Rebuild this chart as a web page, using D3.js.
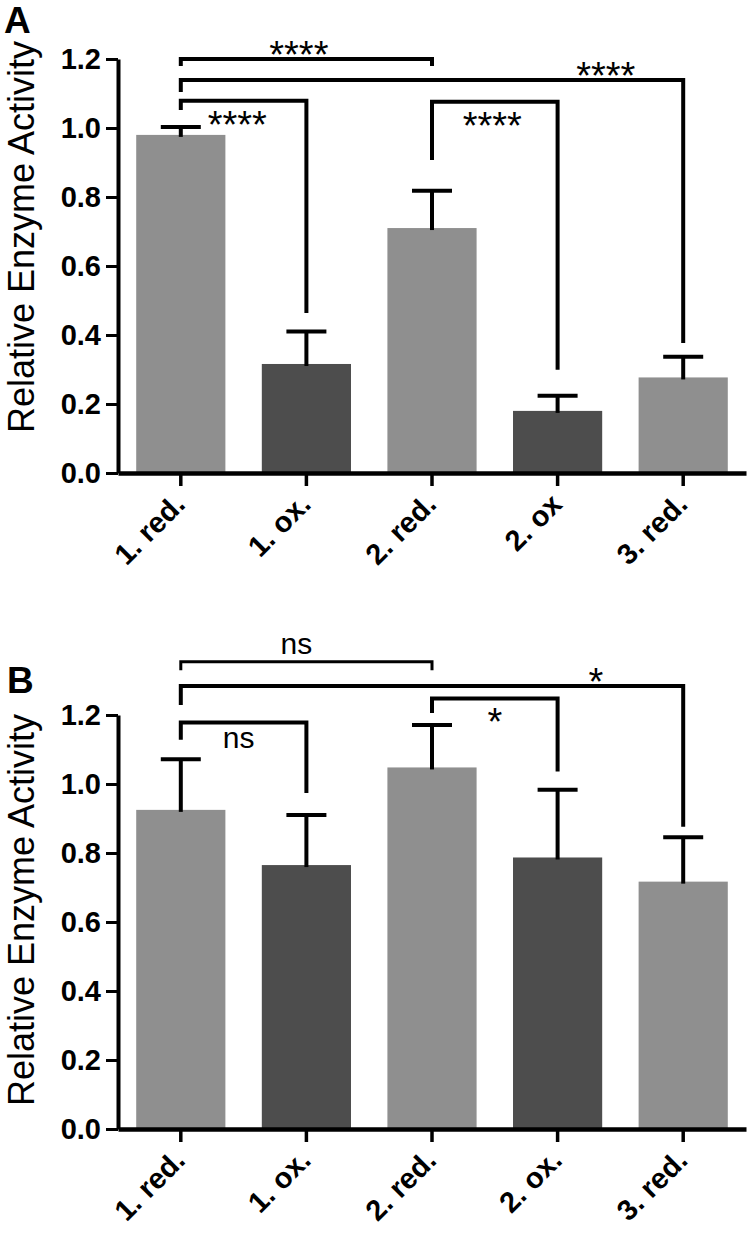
<!DOCTYPE html>
<html><head><meta charset="utf-8">
<script src="https://cdn.jsdelivr.net/npm/d3@7"></script>
<style>
html,body{margin:0;padding:0;background:#fff;}
svg{display:block;}
text{font-family:"Liberation Sans",Arial,sans-serif;fill:#000;}
</style></head>
<body>
<svg id="chart" width="750" height="1233"></svg>
<script>
// ---------- data ----------
const categoriesA = ["1. red.", "1. ox.", "2. red.", "2. ox", "3. red."];
const categoriesB = ["1. red.", "1. ox.", "2. red.", "2. ox.", "3. red."];
const barTypes = ["red", "ox", "red", "ox", "red"];
const meansA = [0.98, 0.316, 0.71, 0.18, 0.277];
const errA = [0.023, 0.094, 0.108, 0.044, 0.060];
const meansB = [0.925, 0.765, 1.048, 0.787, 0.717];
const errB = [0.147, 0.145, 0.123, 0.196, 0.129];
const yTicks = [0.0, 0.2, 0.4, 0.6, 0.8, 1.0, 1.2];
const yLabel = "Relative Enzyme Activity";

// significance brackets: from / to index, level, left end, right end (data units), label
const sigFromA = [0, 0, 0, 2];
const sigToA = [2, 4, 1, 3];
const sigLevelA = [1.2, 1.139, 1.079, 1.076];
const sigLeftEndA = [1.18, 1.104, 1.052, 0.907];
const sigRightEndA = [1.18, 0.377, 0.464, 0.299];
const sigTextA = ["****", "****", "****", "****"];
const sigFromB = [0, 0, 0, 2];
const sigToB = [2, 4, 1, 3];
const sigLevelB = [1.354, 1.284, 1.178, 1.248];
const sigLeftEndB = [1.330, 1.229, 1.128, 1.206];
const sigRightEndB = [1.330, 0.876, 0.974, 1.036];
const sigTextB = ["ns", "*", "ns", "*"];

// ---------- layout / style ----------
const colors = {red: "#8f8f8f", ox: "#4d4d4d"};
const svg = d3.select("#chart");
svg.append("rect").attr("width", 750).attr("height", 1233).attr("fill", "#fff");

function panel(opts) {
  const {letter, letterPos, cats, means, errs, y0, labelCenter,
         sFrom, sTo, sLevel, sLeft, sRight, sText, textFrac, textAbove, thinFirst} = opts;
  const g = svg.append("g");
  const x = d3.scaleBand().domain(cats).range([118, 746]).paddingInner(0.29).paddingOuter(0.145);
  const y = d3.scaleLinear().domain([0, 1.2]).range([y0, y0 - 414]);
  const cx = i => x(cats[i]) + x.bandwidth() / 2;

  // bars
  g.selectAll("rect.bar").data(means).join("rect")
    .attr("x", (d, i) => x(cats[i])).attr("width", x.bandwidth())
    .attr("y", d => y(d)).attr("height", d => y(0) - y(d))
    .attr("fill", (d, i) => colors[barTypes[i]]);

  // error bars (upper only)
  const eb = g.selectAll("g.eb").data(means).join("g");
  eb.append("line").attr("x1", (d, i) => cx(i)).attr("x2", (d, i) => cx(i))
    .attr("y1", d => y(d) + 2).attr("y2", (d, i) => y(d + errs[i]))
    .attr("stroke", "#000").attr("stroke-width", 4);
  eb.append("line").attr("x1", (d, i) => cx(i) - 20).attr("x2", (d, i) => cx(i) + 20)
    .attr("y1", (d, i) => y(d + errs[i])).attr("y2", (d, i) => y(d + errs[i]))
    .attr("stroke", "#000").attr("stroke-width", 4);

  // y axis
  const ya = g.append("g").attr("transform", "translate(118,0)")
    .call(d3.axisLeft(y).tickValues(yTicks).tickFormat(d3.format(".1f")).tickSize(12).tickPadding(5).tickSizeOuter(0));
  ya.select(".domain").attr("stroke-width", 4).attr("stroke", "#000");
  ya.selectAll(".tick line").attr("stroke-width", 3).attr("stroke", "#000");
  ya.selectAll(".tick text").attr("font-size", 29).attr("font-weight", "bold")
    .attr("font-family", "'Liberation Sans',Arial,sans-serif").attr("fill", "#000");

  // x axis
  const xa = g.append("g").attr("transform", `translate(0,${y0})`)
    .call(d3.axisBottom(x).tickSize(13).tickSizeOuter(0).tickFormat(() => ""));
  xa.select(".domain").attr("stroke-width", 4.5).attr("stroke", "#000");
  xa.selectAll(".tick line").attr("stroke-width", 3.5).attr("stroke", "#000");

  // rotated category labels
  g.selectAll("text.xl").data(cats).join("text")
    .attr("transform", d => `translate(${x(d) + x.bandwidth() / 2 + 6},${y0 + 33}) rotate(-45)`)
    .attr("text-anchor", "end").attr("font-size", 29).attr("font-weight", "bold")
    .text(d => d);

  // y label
  g.append("text").attr("transform", `translate(34,${labelCenter}) rotate(-90)`)
    .attr("text-anchor", "middle").attr("font-size", 36).text(yLabel);

  // panel letter
  g.append("text").attr("x", letterPos[0]).attr("y", letterPos[1])
    .attr("font-size", 37).attr("font-weight", "bold").text(letter);

  // brackets
  sFrom.forEach((f, k) => {
    const xl = cx(f), xr = cx(sTo[k]);
    const lv = y(sLevel[k]);
    const sw = (thinFirst && k === 0) ? 3 : 4;
    g.append("path")
      .attr("d", `M${xl},${y(sLeft[k])}V${lv}H${xr}V${y(sRight[k])}`)
      .attr("fill", "none").attr("stroke", "#000").attr("stroke-width", sw)
      .attr("stroke-linejoin", "miter").attr("stroke-linecap", "butt");
    const tx = xl + (xr - xl) * textFrac[k];
    const isStar = sText[k].indexOf("*") >= 0;
    const fs = isStar ? 38 : 30;
    let ty;
    if (isStar) {
      ty = textAbove[k] ? lv - 7 + 0.42 * fs : lv + 21 + 0.42 * fs;
    } else {
      ty = textAbove[k] ? lv - 8 : lv + 25;
    }
    g.append("text").attr("x", tx).attr("y", ty).attr("text-anchor", "middle")
      .attr("font-size", fs).text(sText[k]);
  });
}

panel({letter: "A", letterPos: [4, 33], cats: categoriesA, means: meansA, errs: errA,
  y0: 473, labelCenter: 237,
  sFrom: sigFromA, sTo: sigToA, sLevel: sigLevelA, sLeft: sigLeftEndA, sRight: sigRightEndA, sText: sigTextA,
  textFrac: [0.47, 0.846, 0.45, 0.48], textAbove: [true, true, false, false], thinFirst: false});

panel({letter: "B", letterPos: [7, 693], cats: categoriesB, means: meansB, errs: errB,
  y0: 1129, labelCenter: 910,
  sFrom: sigFromB, sTo: sigToB, sLevel: sigLevelB, sLeft: sigLeftEndB, sRight: sigRightEndB, sText: sigTextB,
  textFrac: [0.46, 0.826, 0.46, 0.5], textAbove: [true, true, false, false], thinFirst: true});
</script>
</body></html>
